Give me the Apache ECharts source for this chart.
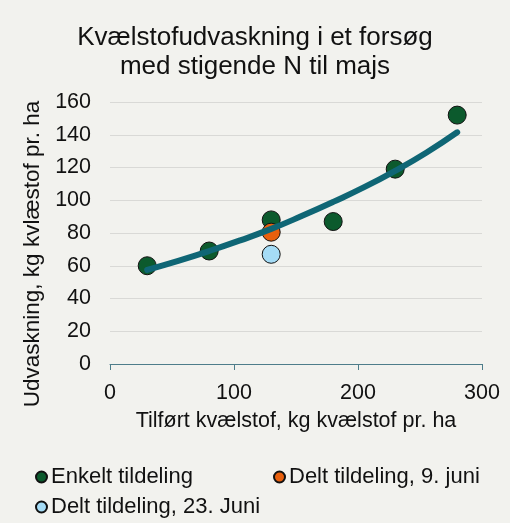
<!DOCTYPE html>
<html style="height: 100%">
<head>
    <meta charset="utf-8">
</head>
<body style="height: 100%; margin: 0; background: #f2f2ee">
<div id="container" style="width: 510px; height: 523px"></div>
<script type="text/javascript" src="https://cdn.jsdelivr.net/npm/echarts@6/dist/echarts.min.js"></script>
<script type="text/javascript">
  // måledata
  const enkeltX = [30, 80, 130, 180, 230, 280];
  const enkeltY = [60, 69, 88, 87, 119, 152];
  const delt9X = [130];
  const delt9Y = [80.5];
  const delt23X = [130];
  const delt23Y = [67];
  // tendenslinje
  const trendX = [30, 55, 80, 105, 130, 155, 180, 205, 230, 255, 280];
  const trendY = [57.5, 63, 69, 75.5, 82.5, 90.5, 99, 108, 118, 129, 141.5];

  const pairs = (xs, ys) => xs.map((x, i) => [x, ys[i]]);
  const font = 'Liberation Sans, Arial, sans-serif';

  var dom = document.getElementById("container");
  var myChart = echarts.init(dom);
  var option;

  function legendItem (name, left, top) {
    return {
      data: [name],
      left: left,
      top: top,
      icon: 'circle',
      itemWidth: 11,
      itemHeight: 11,
      itemGap: 4,
      textStyle: { fontFamily: font, fontSize: 22, color: '#111', padding: [0, 0, 0, -1] }
    }
  }

  function scatterItem (name, data, color) {
    return {
      name: name,
      type: 'scatter',
      data: data,
      symbolSize: 18,
      itemStyle: { color: color, opacity: 1, borderColor: '#111', borderWidth: 1 },
      z: 2
    }
  }

  option = {
    backgroundColor: '#f2f2ee',
    animation: false,
    title: {
      text: 'Kvælstofudvaskning i et forsøg\nmed stigende N til majs',
      left: 'center',
      top: 18,
      padding: [5, 5, 5, 15],
      textStyle: { fontFamily: font, fontSize: 26, fontWeight: 'normal', color: '#111', lineHeight: 29 }
    },
    legend: [
      legendItem('Enkelt tildeling', 30, 461),
      legendItem('Delt tildeling, 9. juni', 268, 461),
      legendItem('Delt tildeling, 23. Juni', 30, 491)
    ],
    grid: { left: 110, right: 28, top: 102, bottom: 159 },
    xAxis: {
      type: 'value',
      min: 0,
      max: 300,
      interval: 100,
      name: 'Tilført kvælstof, kg kvælstof pr. ha',
      nameLocation: 'middle',
      nameGap: 46,
      nameTextStyle: { fontFamily: font, fontSize: 21.5, color: '#111' },
      axisLine: { show: true, lineStyle: { color: '#4e7d8a', width: 1 } },
      axisTick: { show: true, length: 6, lineStyle: { color: '#4e7d8a' } },
      axisLabel: { fontFamily: font, fontSize: 21.5, color: '#111', margin: 18 },
      splitLine: { show: false }
    },
    yAxis: {
      type: 'value',
      min: 0,
      max: 160,
      interval: 20,
      name: 'Udvaskning, kg kvlæstof pr. ha',
      nameLocation: 'middle',
      nameGap: 60,
      nameTextStyle: { fontFamily: font, fontSize: 22.5, color: '#111', padding: [0, 42, 0, 0] },
      axisLine: { show: false },
      axisTick: { show: false },
      axisLabel: { fontFamily: font, fontSize: 21.5, color: '#111', margin: 19 },
      splitLine: { lineStyle: { color: '#d9d9d6', width: 1 } }
    },
    series: [
      scatterItem('Enkelt tildeling', pairs(enkeltX, enkeltY), '#0c5a2d'),
      scatterItem('Delt tildeling, 9. juni', pairs(delt9X, delt9Y), '#e8600e'),
      scatterItem('Delt tildeling, 23. Juni', pairs(delt23X, delt23Y), '#a5dcf6'),
      {
        name: 'Tendens',
        type: 'line',
        data: pairs(trendX, trendY),
        smooth: true,
        showSymbol: false,
        lineStyle: { color: '#0f6675', width: 6, cap: 'round' },
        z: 3
      }
    ]
  };
  myChart.setOption(option);
</script>
</body>
</html>
